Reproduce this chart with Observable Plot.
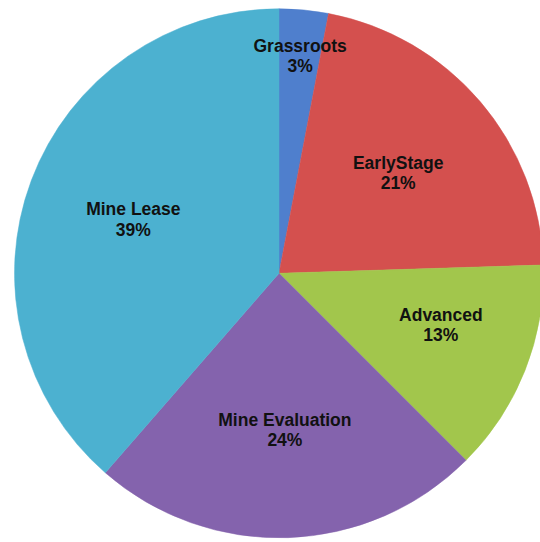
<!DOCTYPE html>
<html>
<head>
<meta charset="utf-8">
<script src="https://cdn.jsdelivr.net/npm/d3@7"></script>
<script src="https://cdn.jsdelivr.net/npm/@observablehq/plot@0.6"></script>
<style>
  html, body { margin: 0; padding: 0; background: #ffffff; }
  #chart svg { display: block; }
</style>
</head>
<body>
<div id="chart"></div>
<script>
// Data
const categories = ["Grassroots", "EarlyStage", "Advanced", "Mine Evaluation", "Mine Lease"];
const values = [3.0, 21.5, 13.0, 23.9, 38.6];
const pctLabels = ["3%", "21%", "13%", "24%", "39%"];
const colors = ["#4f7fcd", "#d4504e", "#a2c64c", "#8463ad", "#4cb1d0"];

const rows = categories.map((c, i) => ({category: c, value: values[i], pct: pctLabels[i], color: colors[i]}));
const arcs = d3.pie().sort(null).value(d => d.value)(rows);

// label anchor in unit (scale) coordinates
const labelRows = arcs.map(a => {
  const v = a.data.value;
  const mid = (a.startAngle + a.endAngle) / 2 - (v >= 5 && v < 15 ? 0.07 : 0);
  const r = v < 5 ? 0.83 : v < 15 ? 0.64 : 0.59;
  return {x: r * Math.sin(mid), y: r * Math.cos(mid), text: a.data.category + "\n" + a.data.pct};
});

function pieMark(index, scales, values, dimensions, context) {
  const cx = scales.x(0), cy = scales.y(0);
  const R = scales.x(1) - scales.x(0);
  const g = d3.create("svg:g").attr("transform", `translate(${cx},${cy})`);
  const arcGen = d3.arc().innerRadius(0).outerRadius(R);
  g.selectAll("path")
    .data(arcs)
    .join("path")
    .attr("d", arcGen)
    .attr("fill", d => d.data.color)
    .attr("stroke", d => d.data.color)
    .attr("stroke-width", 0.5);
  return g.node();
}

const cxPix = 279, cyPix = 273.3, Rpix = 264.5;

const chart = Plot.plot({
  width: 540,
  height: 542,
  margin: 0,
  style: {background: "#ffffff", overflow: "hidden"},
  x: {domain: [-1, 1], range: [cxPix - Rpix, cxPix + Rpix], axis: null},
  y: {domain: [1, -1], range: [cyPix - Rpix, cyPix + Rpix], axis: null},
  marks: [
    pieMark,
    Plot.text(labelRows, {
      x: "x", y: "y", text: "text",
      fontSize: 17.5, fontWeight: "bold",
      fontFamily: "'Liberation Sans', Arial, sans-serif",
      fill: "#111111",
      lineHeight: 1.15,
      lineAnchor: "middle"
    })
  ]
});
document.getElementById("chart").appendChild(chart);
</script>
</body>
</html>
